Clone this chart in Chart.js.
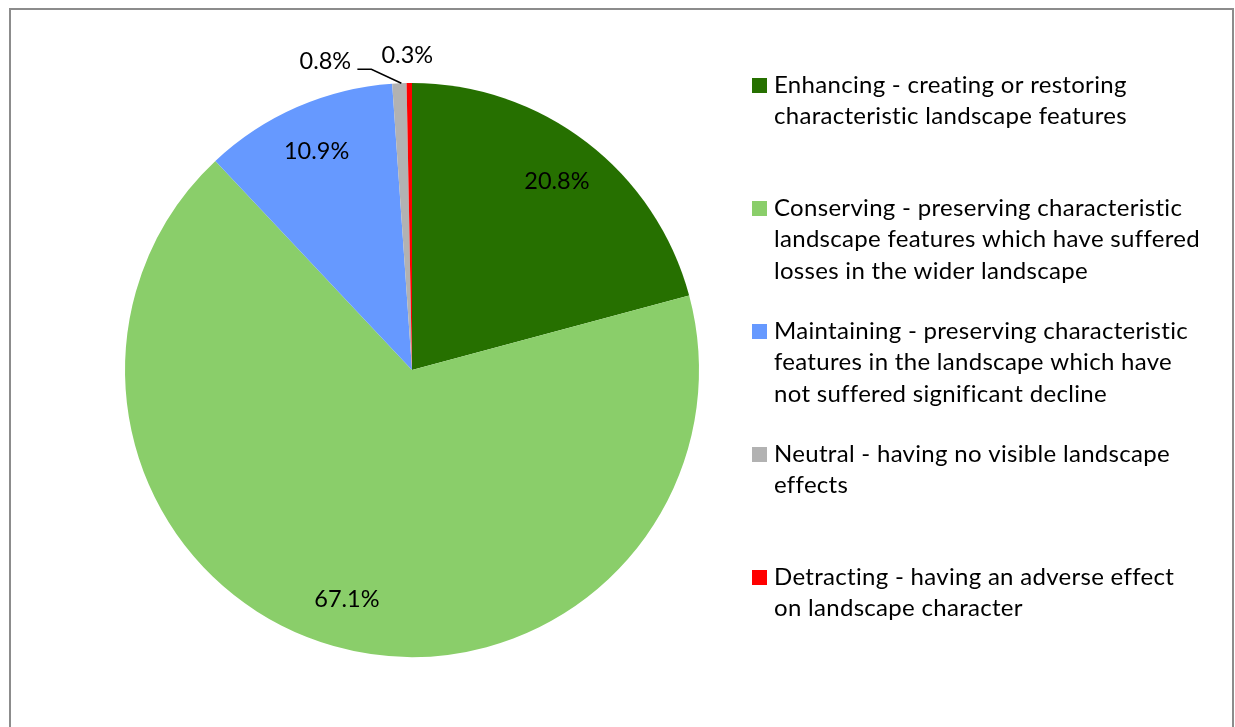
<!DOCTYPE html>
<html lang="en">
<head>
    <meta charset="UTF-8">
    <script src="https://cdn.jsdelivr.net/npm/chart.js"></script>
    <title>Landscape effects</title>
    <style>
      body { margin: 0; background: #fff; }
      canvas { display: block; }
    </style>
</head>
<body>
    <canvas id="graficoPizza" width="1235" height="727"></canvas>

<script>
  // categorias (cada uma quebrada em linhas para a legenda)
  const categorias = [
    ["Enhancing - creating or restoring", "characteristic landscape features"],
    ["Conserving - preserving characteristic", "landscape features which have suffered", "losses in the wider landscape"],
    ["Maintaining - preserving characteristic", "features in the landscape which have", "not suffered significant decline"],
    ["Neutral - having no visible landscape", "effects"],
    ["Detracting - having an adverse effect", "on landscape character"]
  ];
  const percentuais = [20.8, 67.1, 10.9, 0.8, 0.3];
  const cores = ["#267000", "#8ACE6A", "#6699FF", "#B2B2B2", "#FF0000"];

  const fonte = "Lato, 'Open Sans', sans-serif";

  // moldura cinza em volta do gráfico
  const moldura = {
    id: "moldura",
    beforeDraw(chart) {
      const ctx = chart.ctx;
      ctx.save();
      ctx.strokeStyle = "#8c8c8c";
      ctx.lineWidth = 2;
      ctx.strokeRect(10, 9, 1223, 740);
      ctx.restore();
    }
  };

  // rótulos de porcentagem em cada fatia
  const rotulos = {
    id: "rotulos",
    afterDatasetsDraw(chart) {
      const ctx = chart.ctx;
      const arcos = chart.getDatasetMeta(0).data;
      ctx.save();
      ctx.font = "23.5px " + fonte;
      ctx.fillStyle = "#000";
      ctx.textAlign = "center";
      ctx.textBaseline = "middle";
      arcos.forEach((arco, i) => {
        const p = arco.getProps(["x", "y", "startAngle", "endAngle", "outerRadius"], true);
        const meio = (p.startAngle + p.endAngle) / 2;
        const texto = percentuais[i].toFixed(1) + "%";
        if (percentuais[i] >= 5) {
          const r = p.outerRadius * 0.83;
          ctx.fillText(texto, p.x + Math.cos(meio) * r, p.y + Math.sin(meio) * r);
        } else {
          // fatias pequenas: rótulo por fora
          const bx = p.x + Math.cos(meio) * p.outerRadius;
          const by = p.y + Math.sin(meio) * p.outerRadius;
          if (i === 3) {
            ctx.fillText(texto, bx - 74, by - 22);
            ctx.strokeStyle = "#000";
            ctx.lineWidth = 1.5;
            ctx.beginPath();
            ctx.moveTo(bx - 42, by - 14);
            ctx.lineTo(bx - 28, by - 14);
            ctx.lineTo(bx + 2, by);
            ctx.stroke();
          } else {
            ctx.fillText(texto, bx - 2, by - 28);
          }
        }
      });
      ctx.restore();
    }
  };

  // legenda à direita com texto em várias linhas
  const legenda = {
    id: "legenda",
    afterDraw(chart) {
      const ctx = chart.ctx;
      ctx.save();
      ctx.font = "24px " + fonte;
      ctx.letterSpacing = "0.3px";
      ctx.textBaseline = "middle";
      ctx.textAlign = "left";
      categorias.forEach((linhas, i) => {
        const y0 = 85 + i * 123;
        ctx.fillStyle = cores[i];
        ctx.fillRect(752, y0 - 7, 15, 15);
        ctx.fillStyle = "#000";
        linhas.forEach((linha, j) => {
          ctx.fillText(linha, 774, y0 + j * 31.5);
        });
      });
      ctx.restore();
    }
  };

  const config = {
    type: "pie",
    data: {
      labels: categorias.map(l => l.join(" ")),
      datasets: [{
        data: percentuais,
        backgroundColor: cores,
        borderWidth: 0
      }]
    },
    options: {
      responsive: false,
      animation: false,
      layout: { padding: { left: 125, right: 536, top: 83, bottom: 70 } },
      plugins: {
        legend: { display: false },
        tooltip: { enabled: false }
      }
    },
    plugins: [moldura, rotulos, legenda]
  };

  new Chart(document.getElementById("graficoPizza"), config);
</script>
</body>
</html>
